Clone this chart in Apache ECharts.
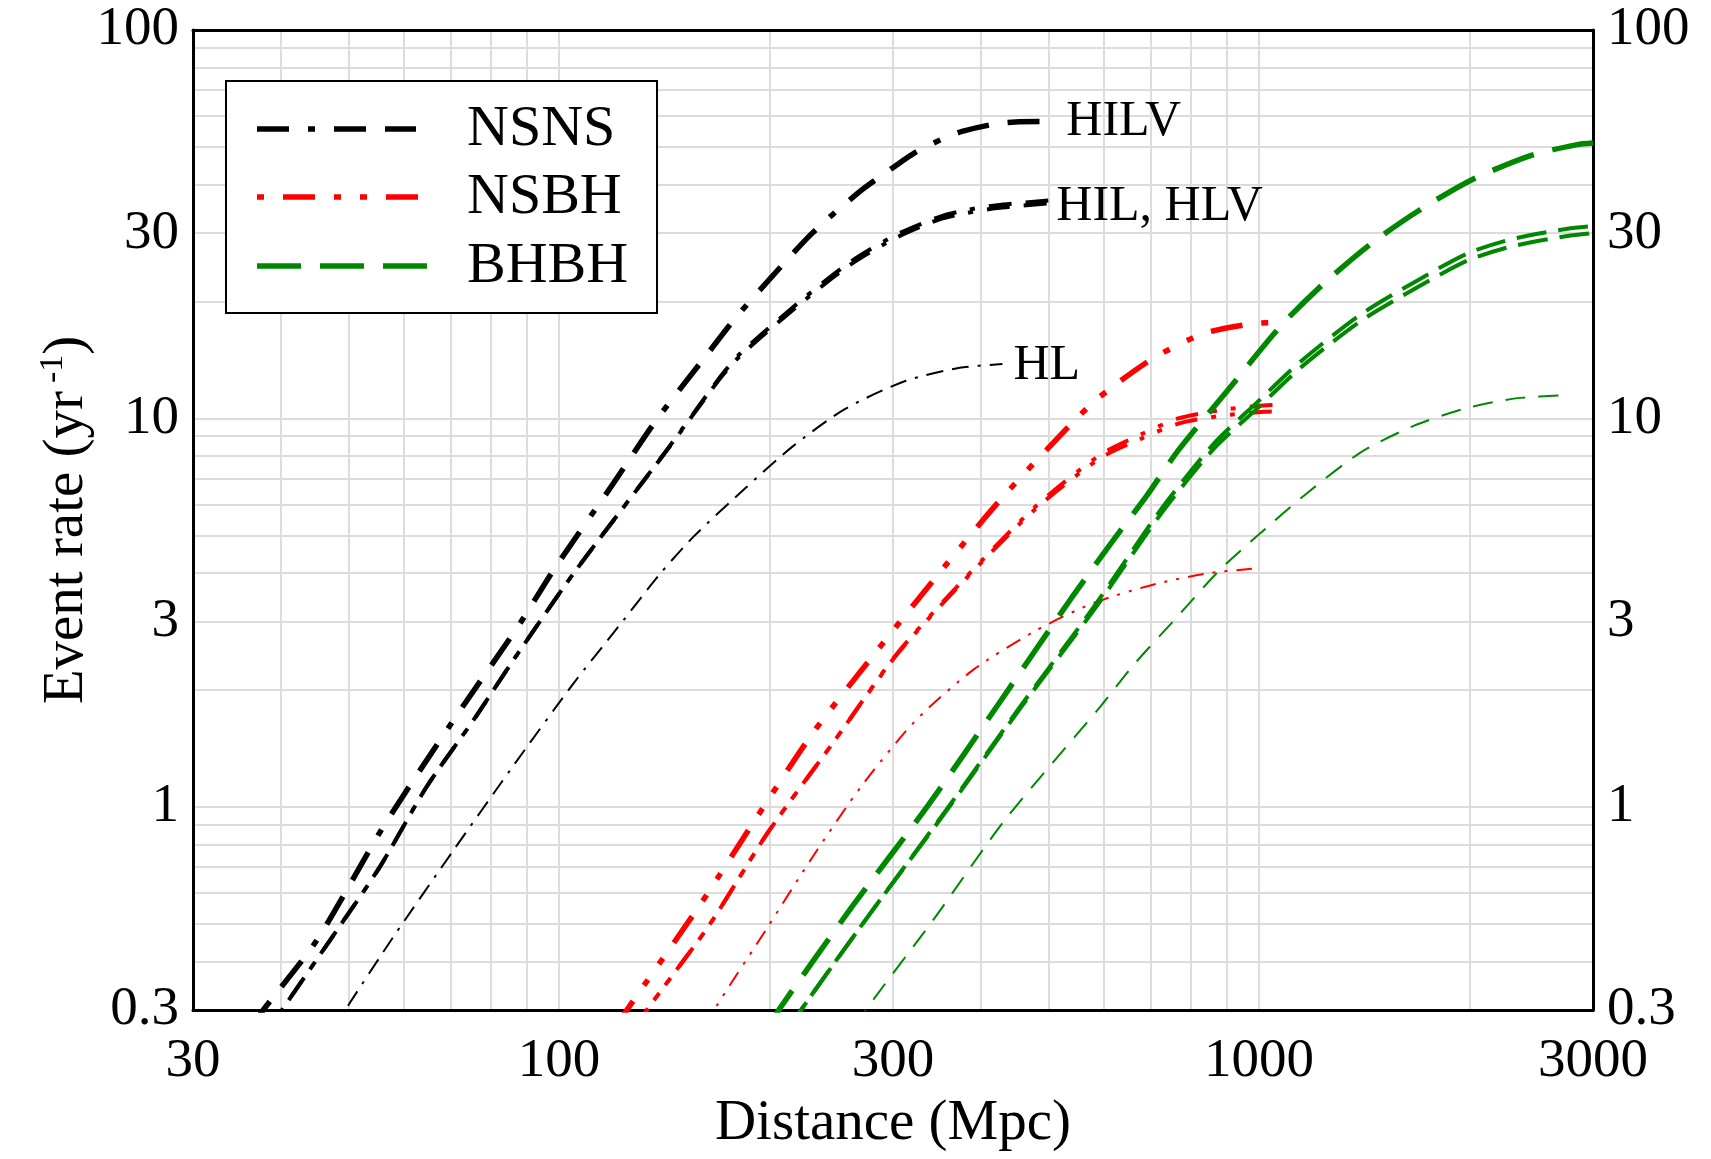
<!DOCTYPE html>
<html>
<head>
<meta charset="utf-8">
<title>Event rate vs distance</title>
<script src="https://cdn.jsdelivr.net/npm/echarts@6/dist/echarts.min.js"></script>
<style>
  html, body { margin: 0; padding: 0; background: #fff; }
  #chart { width: 1711px; height: 1159px; }
</style>
</head>
<body>
<div id="chart"></div>
<script>
// Axis ranges, grid positions and tick labels
const xRange = [30, 3000];
const yRange = [0.3, 100];
const xLabelValues = [30, 100, 300, 1000, 3000];
const yLabelValues = [0.3, 1, 3, 10, 30, 100];
const xGridValues = [40, 50, 60, 70, 80, 90, 100, 200, 300, 400, 500, 600, 700, 800, 900, 1000, 2000];
const yGridValues = [0.4, 0.5, 0.6, 0.7, 0.8, 0.9, 1, 2, 3, 4, 5, 6, 7, 8, 9, 10, 20, 30, 40, 50, 60, 70, 80, 90];

// Detector network annotations
const networkLabels = ['HILV', 'HIL, HLV', 'HL'];

// Event rate (per year) against distance (Mpc): [distance, rate]
const nsnsHILV = [[36.4, 0.27], [37.8, 0.3], [45.1, 0.454], [56.1, 0.889], [70.7, 1.674], [88.0, 2.97], [98.2, 4.07],
  [119.6, 6.81], [137.2, 9.81], [161.7, 14.4], [177.6, 17.9], [196.3, 22.0], [230, 30.0], [271, 38.8], [302, 44.6],
  [322.9, 48.4], [354.3, 52.6], [376.5, 54.8], [413.1, 57.0], [448.6, 58.0], [500, 58.1]];
const nsnsHIL = [[38.8, 0.27], [40.2, 0.3], [47.1, 0.454], [55.5, 0.702], [64.7, 1.127], [75.5, 1.674], [86.1, 2.39],
  [104.9, 3.99], [142.6, 8.30], [170, 12.8], [181.5, 14.7], [220.1, 19.9], [260, 25.2], [302, 29.6],
  [350.5, 33.1], [382.5, 34.4], [422.5, 35.4], [500, 36.4]];
const nsnsHLV = [[38.8, 0.27], [40.2, 0.3], [47.1, 0.454], [55.5, 0.702], [64.7, 1.127], [75.5, 1.674], [86.1, 2.39],
  [104.9, 3.99], [142.6, 8.28], [170, 12.7], [181.5, 14.5], [220.1, 19.6], [260, 24.8], [302, 29.1],
  [350.5, 32.6], [382.5, 33.8], [422.5, 34.8], [500, 35.8]];
const nsnsHL = [[47.8, 0.27], [49.5, 0.3], [58.0, 0.463], [70.7, 0.774], [85.2, 1.245], [104.9, 2.08], [122.3, 2.95],
  [139.6, 3.99], [155.8, 4.97], [184.5, 6.61], [215.3, 8.45], [256.7, 10.6], [313.1, 12.5], [373.5, 13.5], [430, 13.8]];

const nsbhHILV = [[120.5, 0.27], [125, 0.3], [159.3, 0.562], [190, 0.918], [229.9, 1.54], [282.4, 2.48], [347, 3.94],
  [426.2, 6.15], [543, 9.81], [593.3, 11.4], [702.3, 14.2], [830, 16.5], [971.9, 17.5], [1090, 17.7]];
const nsbhHIL = [[128.8, 0.27], [133.5, 0.3], [164, 0.497], [198.6, 0.857], [247.5, 1.48], [304, 2.48], [378.8, 3.85],
  [479.3, 5.93], [593, 8.06], [676.6, 9.08], [767, 10.0], [880, 10.5], [1016, 10.8], [1083, 10.85]];
const nsbhHLV = [[128.8, 0.27], [133.5, 0.3], [164, 0.497], [198.6, 0.857], [247.5, 1.48], [304, 2.47], [378.8, 3.82],
  [479.3, 5.85], [593, 7.9], [676.6, 8.85], [767, 9.7], [880, 10.15], [1016, 10.4], [1083, 10.45]];
const nsbhHL = [[161.5, 0.27], [166.5, 0.3], [198.6, 0.49], [229.9, 0.74], [270.3, 1.13], [322.3, 1.66], [390.1, 2.25],
  [479.3, 2.84], [580.2, 3.35], [712.6, 3.75], [850, 4.0], [977, 4.10]];

const bhbhHILV = [[199.5, 0.27], [206, 0.3], [262.5, 0.555], [336.9, 1.01], [426.2, 1.86], [539, 3.44], [613.3, 4.75],
  [692.2, 6.35], [767.6, 8.3], [901.6, 11.8], [1074, 17.3], [1239, 22.3], [1446.6, 28.2], [1679, 34.0],
  [2005, 41.0], [2442, 47.5], [2848, 50.7], [3000, 51.2]];
const bhbhHIL = [[214.5, 0.27], [221.7, 0.3], [278.4, 0.532], [357.4, 0.982], [458.7, 1.84], [580, 3.26], [722.7, 5.8],
  [861.4, 8.6], [993.6, 11.0], [1146, 14.0], [1396, 18.5], [1679, 22.6], [1986, 26.6], [2290, 28.9], [2758, 30.8], [3000, 31.3]];
const bhbhHLV = [[214.5, 0.27], [221.7, 0.3], [278.4, 0.532], [357.4, 0.975], [458.7, 1.82], [580, 3.2], [722.7, 5.65],
  [861.4, 8.35], [993.6, 10.6], [1146, 13.5], [1396, 17.8], [1679, 21.7], [1986, 25.5], [2290, 27.7], [2758, 29.5], [3000, 30.0]];
const bhbhHL = [[266, 0.27], [274.3, 0.3], [342, 0.51], [432.5, 0.92], [593, 1.81], [662, 2.32], [763.5, 3.08], [876, 4.05],
  [1005, 5.07], [1172, 6.43], [1396, 8.17], [1663, 9.57], [1985, 10.65], [2340, 11.28], [2741, 11.47]];

// Colours and dash patterns by source type
const colorNSNS = '#000000';
const colorNSBH = '#ff0000';
const colorBHBH = '#008800';
const FONT = '"Liberation Serif", "Times New Roman", serif';

const dashNSNS = { thick: [32, 19, 32, 19, 7, 19], mid: [23, 14, 23, 14, 5, 14], thin: [17, 9, 17, 9, 3, 9] };
const dashNSBH = { thick: [32, 19, 7, 19, 7, 19], mid: [23, 14, 5, 14, 5, 14], thin: [16, 9, 3, 9, 3, 9] };
const dashBHBH = { thick: [44, 19], mid: [30, 12], thin: [20, 13] };
const widths = { thick: 5.5, mid: 4, thin: 2 };

function curve(name, data, color, dash, weight, offset, label) {
  const s = {
    name: name,
    type: 'line',
    data: data,
    symbol: 'none',
    showSymbol: false,
    smooth: 0.25,
    silent: true,
    clip: true,
    lineStyle: { color: color, width: widths[weight], type: dash[weight], dashOffset: offset || 0, cap: 'butt' },
    z: 3
  };
  if (label) {
    s.endLabel = {
      show: true,
      formatter: label.text,
      distance: label.distance,
      offset: label.offset || [0, 0],
      color: '#000',
      fontFamily: FONT,
      fontSize: 50
    };
  }
  return s;
}

const fmt = v => String(+Number(v).toPrecision(6));

const chart = echarts.init(document.getElementById('chart'), null, { renderer: 'canvas' });

const legendFont = '58px ' + FONT;

const option = {
  backgroundColor: '#ffffff',
  animation: false,
  grid: { left: 193, top: 30, width: 1400, height: 980, containLabel: false },
  xAxis: [
    {
      type: 'log', logBase: 10, min: xRange[0], max: xRange[1], position: 'bottom',
      axisLine: { show: true, onZero: false, lineStyle: { color: '#000', width: 3 } },
      axisTick: { show: false, customValues: xGridValues },
      axisLabel: { customValues: xLabelValues, formatter: fmt, color: '#000', fontFamily: FONT, fontSize: 55, margin: 24 },
      splitLine: { show: true, lineStyle: { color: '#dcdcdc', width: 2 } },
      name: 'Distance (Mpc)', nameLocation: 'middle', nameGap: 86,
      nameTextStyle: { color: '#000', fontFamily: FONT, fontSize: 57 }
    },
    {
      type: 'log', logBase: 10, min: xRange[0], max: xRange[1], position: 'top',
      axisLine: { show: true, onZero: false, lineStyle: { color: '#000', width: 3 } },
      axisTick: { show: false }, axisLabel: { show: false }, splitLine: { show: false }
    }
  ],
  yAxis: [
    {
      type: 'log', logBase: 10, min: yRange[0], max: yRange[1], position: 'left',
      axisLine: { show: true, onZero: false, lineStyle: { color: '#000', width: 3 } },
      axisTick: { show: false, customValues: yGridValues },
      axisLabel: { customValues: yLabelValues, formatter: fmt, color: '#000', fontFamily: FONT, fontSize: 55, margin: 14 },
      splitLine: { show: true, lineStyle: { color: '#dcdcdc', width: 2 } },
      name: '{m|Event rate (yr}{sup|-1}{m|)}', nameLocation: 'middle', nameGap: 97,
      nameMoveOverlap: false,
      nameTextStyle: {
        color: '#000', fontFamily: FONT, fontSize: 57,
        rich: {
          m: { color: '#000', fontFamily: FONT, fontSize: 57, lineHeight: 60, verticalAlign: 'bottom' },
          sup: { color: '#000', fontFamily: FONT, fontSize: 34, lineHeight: 34, verticalAlign: 'top', padding: [0, 0, 46, 8] }
        }
      }
    },
    {
      type: 'log', logBase: 10, min: yRange[0], max: yRange[1], position: 'right',
      axisLine: { show: true, onZero: false, lineStyle: { color: '#000', width: 3 } },
      axisTick: { show: false, customValues: yGridValues },
      axisLabel: { customValues: yLabelValues, formatter: fmt, color: '#000', fontFamily: FONT, fontSize: 55, margin: 14 },
      splitLine: { show: false }
    }
  ],
  series: [
    curve('NSNS', nsnsHILV, colorNSNS, dashNSNS, 'thick', 0, { text: networkLabels[0], distance: 18, offset: [0, 0] }),
    curve('NSNS', nsnsHIL, colorNSNS, dashNSNS, 'mid', 0, { text: networkLabels[1], distance: 8, offset: [0, 6] }),
    curve('NSNS', nsnsHLV, colorNSNS, dashNSNS, 'mid', 4),
    curve('NSNS', nsnsHL, colorNSNS, dashNSNS, 'thin', 0, { text: networkLabels[2], distance: 11, offset: [0, 2] }),
    curve('NSBH', nsbhHILV, colorNSBH, dashNSBH, 'thick', 0),
    curve('NSBH', nsbhHIL, colorNSBH, dashNSBH, 'mid', 0),
    curve('NSBH', nsbhHLV, colorNSBH, dashNSBH, 'mid', 4),
    curve('NSBH', nsbhHL, colorNSBH, dashNSBH, 'thin', 0),
    curve('BHBH', bhbhHILV, colorBHBH, dashBHBH, 'thick', 0),
    curve('BHBH', bhbhHIL, colorBHBH, dashBHBH, 'mid', 0),
    curve('BHBH', bhbhHLV, colorBHBH, dashBHBH, 'mid', 4),
    curve('BHBH', bhbhHL, colorBHBH, dashBHBH, 'thin', 0)
  ],
  // Legend box with line samples
  graphic: [
    { type: 'rect', z: 100, shape: { x: 226, y: 81, width: 431, height: 232 }, style: { fill: '#fff', stroke: '#000', lineWidth: 2 } },
    { type: 'line', z: 101, shape: { x1: 257, y1: 129, x2: 416, y2: 129 }, style: { stroke: colorNSNS, lineWidth: 5.5, lineDash: dashNSNS.thick, lineDashOffset: 51 } },
    { type: 'line', z: 101, shape: { x1: 257, y1: 197, x2: 418, y2: 197 }, style: { stroke: colorNSBH, lineWidth: 5.5, lineDash: dashNSBH.thick, lineDashOffset: 77 } },
    { type: 'line', z: 101, shape: { x1: 257, y1: 266, x2: 427, y2: 266 }, style: { stroke: colorBHBH, lineWidth: 5.5, lineDash: dashBHBH.thick } },
    { type: 'text', z: 101, x: 467, y: 130, style: { text: 'NSNS', fill: '#000', font: legendFont, verticalAlign: 'middle' } },
    { type: 'text', z: 101, x: 467, y: 198, style: { text: 'NSBH', fill: '#000', font: legendFont, verticalAlign: 'middle' } },
    { type: 'text', z: 101, x: 467, y: 267, style: { text: 'BHBH', fill: '#000', font: legendFont, verticalAlign: 'middle' } }
  ]
};

chart.setOption(option);
</script>
</body>
</html>
